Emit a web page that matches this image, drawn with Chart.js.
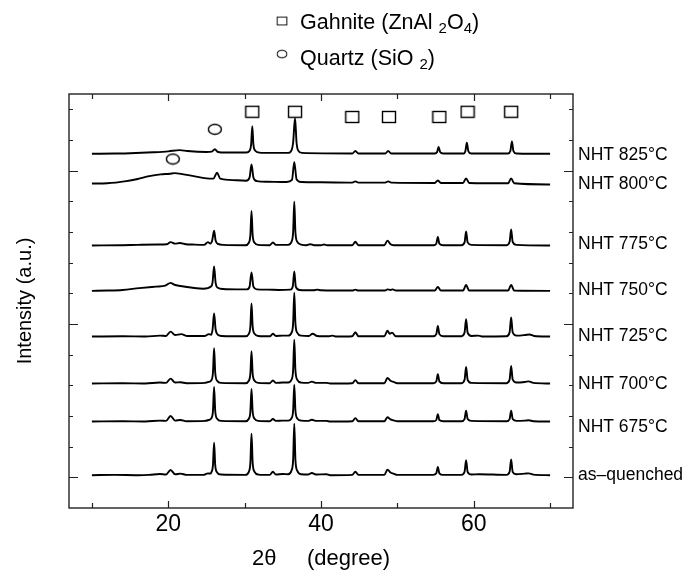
<!DOCTYPE html>
<html>
<head>
<meta charset="utf-8">
<script src="https://cdn.jsdelivr.net/npm/chart.js@4.4.1/dist/chart.umd.min.js"></script>
<style>
  body { margin: 0; background: #fff; }
  #wrap { width: 686px; height: 576px; }
</style>
</head>
<body>
<div id="wrap"><canvas id="xrd" width="686" height="576"></canvas></div>
<script>
// ---- data: [2theta, intensity above own baseline] ----
const asQuenched = [[10,0],[13,1],[16,0],[17.5,1],[18.9,4],[19.7,2],[20.3,17],[20.9,3],[21.6,5],[22.4,1],[24.6,1],[25.2,6],[25.5,5],[25.65,10],[25.85,32],[26.0,106],[26.15,32],[26.4,9],[26.9,2],[30.1,1],[30.55,11],[30.75,40],[30.9,135],[31.05,40],[31.3,11],[31.8,2],[33.3,1],[33.7,11],[34.1,2],[35.0,4],[35.7,3],[36.15,16],[36.35,50],[36.5,168],[36.65,50],[36.9,14],[37.4,3],[38.3,2],[38.8,7],[39.4,2],[40.7,3],[41.2,0],[44.1,1],[44.5,11],[44.9,1],[48.3,1],[48.7,18],[49.1,9],[49.5,5],[50.0,1],[54.7,1],[55.1,6],[55.3,27],[55.5,6],[56.0,1],[58.4,1],[58.8,11],[59.0,49],[59.2,11],[59.7,2],[60.7,3],[64.3,1],[64.7,11],[64.9,51],[65.1,11],[65.6,3],[66.7,5],[67.2,6],[67.8,2],[70,0]];
const nht675 = [[10,0],[14,1],[17,0],[18.9,3],[19.7,2],[20.3,18],[20.9,3],[21.6,5],[22.4,1],[24.8,2],[25.3,5],[25.65,11],[25.85,34],[26.0,113],[26.15,34],[26.4,9],[26.9,2],[30.1,1],[30.55,9],[30.75,32],[30.9,106],[31.05,32],[31.3,9],[31.8,2],[33.3,1],[33.7,8],[34.1,2],[35.0,3],[35.7,3],[36.15,11],[36.35,36],[36.5,120],[36.65,36],[36.9,10],[37.4,3],[38.3,2],[38.8,6],[39.4,2],[40.7,2],[41.2,0],[44.1,1],[44.5,11],[44.9,1],[48.3,1],[48.7,14],[49.1,7],[49.5,4],[50.0,1],[54.7,1],[55.1,5],[55.3,24],[55.5,5],[56.0,1],[58.4,1],[58.8,8],[59.0,35],[59.2,8],[59.7,2],[64.3,1],[64.7,8],[64.9,35],[65.1,8],[65.6,2],[66.7,3],[67.2,4],[67.8,1],[70,0]];
const nht700 = [[10,0],[14,1],[17,0],[18.9,3],[19.7,2],[20.3,16],[20.9,3],[21.6,4],[22.4,1],[24.8,2],[25.3,5],[25.65,11],[25.85,35],[26.0,115],[26.15,35],[26.4,9],[26.9,2],[30.1,1],[30.55,9],[30.75,32],[30.9,105],[31.05,32],[31.3,9],[31.8,2],[33.3,1],[33.7,10],[34.1,2],[35.0,3],[35.7,3],[36.15,13],[36.35,43],[36.5,143],[36.65,43],[36.9,12],[37.4,3],[38.3,2],[38.8,6],[39.4,2],[40.7,2],[41.2,0],[44.1,1],[44.5,11],[44.9,1],[48.3,1],[48.7,18],[49.1,9],[49.5,5],[50.0,1],[54.7,1],[55.1,7],[55.3,30],[55.5,7],[56.0,1],[58.4,1],[58.8,12],[59.0,54],[59.2,12],[59.7,2],[64.3,1],[64.7,13],[64.9,57],[65.1,13],[65.6,3],[66.7,5],[67.2,7],[67.8,2],[70,0]];
const nht725 = [[10,0],[14,1],[17,0],[18.9,3],[19.7,2],[20.3,16],[20.9,5],[21.7,8],[22.5,2],[24.8,2],[25.3,8],[25.6,6],[25.8,23],[26.0,75],[26.2,23],[26.5,6],[27.0,2],[30.1,1],[30.55,9],[30.75,33],[30.9,108],[31.05,33],[31.3,9],[31.8,2],[33.3,1],[33.7,9],[34.1,2],[35.0,3],[35.7,3],[36.15,13],[36.35,43],[36.5,143],[36.65,43],[36.9,12],[37.4,3],[38.4,2],[38.9,9],[39.5,2],[41.1,1],[41.5,3],[42.0,0],[44.1,1],[44.5,14],[44.9,1],[48.3,1],[48.7,19],[49.0,9],[49.3,13],[49.8,1],[54.7,1],[55.1,8],[55.3,35],[55.5,8],[56.0,1],[58.4,1],[58.8,13],[59.0,57],[59.2,13],[59.7,2],[60.6,3],[61.2,0],[64.3,1],[64.7,14],[64.9,62],[65.1,14],[65.6,3],[66.7,5],[67.3,7],[67.9,2],[70,0]];
const nht750 = [[10,0],[12,1],[14,3],[16.2,9],[18.4,14],[19.6,17],[20.3,26],[20.8,20],[21.6,16],[23.2,10],[24.6,7],[25.6,14],[25.8,28],[26.0,80],[26.2,26],[26.5,10],[27.2,6],[29,5],[30.3,5],[30.65,14],[30.9,60],[31.15,14],[31.6,5],[33,4],[34.5,3],[36.0,4],[36.3,14],[36.5,63],[36.7,14],[37.2,3],[39.0,2],[39.5,4],[40.0,2],[44.1,1],[44.5,4],[44.9,1],[48.4,1],[48.7,5],[49.1,3],[49.4,5],[49.8,1],[54.9,1],[55.3,13],[55.7,1],[58.6,1],[59.0,19],[59.4,1],[64.5,1],[64.9,19],[65.3,1],[70,0]];
const nht775 = [[10,0],[14,1],[16,2],[18.6,3],[19.8,4],[20.3,11],[20.9,6],[21.5,8],[22.3,4],[23.2,3],[24.7,2],[25.2,11],[25.5,6],[25.75,16],[26.0,48],[26.2,16],[26.5,5],[27.2,2],[30.1,1],[30.55,9],[30.75,34],[30.9,113],[31.05,34],[31.3,9],[31.8,2],[33.3,1],[33.7,10],[34.1,2],[35.7,2],[36.15,13],[36.35,43],[36.5,143],[36.65,43],[36.9,12],[37.4,3],[38.1,1],[38.6,4],[39.1,1],[40.0,1],[40.4,3],[40.8,1],[44.1,1],[44.5,12],[44.9,1],[48.3,1],[48.7,16],[49.1,4],[49.5,1],[54.8,1],[55.1,6],[55.3,28],[55.5,6],[56.0,1],[58.4,1],[58.8,10],[59.0,46],[59.2,10],[59.7,2],[64.3,1],[64.7,12],[64.9,52],[65.1,12],[65.6,2],[70,0]];
const nht800 = [[10,0],[12,1],[14.5,8],[16,15],[17.5,24],[19,30],[20.2,32],[20.8,34],[22,30],[23.2,25],[25,17],[25.9,16],[26.4,35],[26.8,16],[28,12],[30.2,9],[30.65,20],[30.9,62],[31.15,20],[31.6,8],[33,6],[35.5,5],[36.2,12],[36.5,70],[36.8,14],[37.4,5],[40,4],[44.1,3],[44.5,7],[44.9,3],[48.4,3],[48.8,7],[49.2,3],[54.9,2],[55.3,10],[55.7,2],[58.6,2],[59.0,17],[59.4,2],[64.5,1],[64.9,17],[65.3,1],[70,-3]];
const nht825 = [[10,0],[13,1],[15,2],[18,5],[20,8],[21.5,12],[22.5,9],[25,6],[25.7,7],[26.1,15],[26.5,6],[27.5,4],[30.2,4],[30.65,10],[30.85,30],[31.0,90],[31.15,30],[31.4,10],[31.9,4],[33.8,3],[35.7,3],[36.15,12],[36.35,36],[36.6,117],[36.8,36],[37.0,11],[37.5,3],[44.1,1],[44.5,9],[44.9,1],[48.4,1],[48.8,9],[49.2,1],[54.9,1],[55.2,6],[55.4,22],[55.6,6],[56.0,1],[58.7,1],[58.9,8],[59.1,36],[59.3,8],[59.7,1],[64.5,1],[64.8,9],[65.0,40],[65.2,9],[65.6,1],[70,0]];

const traces = [asQuenched, nht675, nht700, nht725, nht750, nht775, nht800, nht825];
const traceLabels = ['as\u2013quenched', 'NHT 675\u00b0C', 'NHT 700\u00b0C', 'NHT 725\u00b0C', 'NHT 750\u00b0C', 'NHT 775\u00b0C', 'NHT 800\u00b0C', 'NHT 825\u00b0C'];
const traceOffsets = [7, 182, 306, 459, 608, 756, 958, 1055];

// phase markers
const gahniteX = [31.0, 36.6, 44.1, 48.9, 55.5, 59.2, 64.9];
const gahniteY = [1192, 1192, 1175, 1175, 1175, 1192, 1192];
const quartzX = [26.1, 20.6];
const quartzY = [1135, 1038];

// axes
const xTicks = [10, 20, 30, 40, 50, 60, 70];
const yTicks = [0, 100, 200, 300, 400, 500, 600, 700, 800, 900, 1000, 1100, 1200];

// ---- styling ----
const FONT = "'Liberation Sans', Arial, Helvetica, sans-serif";
const labelNudge = [0, 6, 1, 0, -1, -1, 1, 1];

function markerImg(w, h, shape) {
  const c = document.createElement('canvas');
  c.width = w + 3; c.height = h + 3;
  const g = c.getContext('2d');
  g.strokeStyle = '#000';
  g.lineWidth = 1.4;
  if (shape === 'rect') {
    g.strokeRect(1.5, 1.5, w, h);
  } else {
    g.beginPath();
    g.ellipse(c.width / 2, c.height / 2, w / 2, h / 2, 0, 0, Math.PI * 2);
    g.stroke();
  }
  return c;
}
const squareImg = markerImg(13, 11, 'rect');
const circleImg = markerImg(13, 10, 'circle');

const datasets = traces.map((t, i) => ({
  label: traceLabels[i],
  data: t.map(p => ({ x: p[0], y: traceOffsets[i] + p[1] })),
  borderColor: '#000',
  borderWidth: 1.9,
  pointRadius: 0,
  fill: false,
  cubicInterpolationMode: 'monotone'
}));
datasets.push({
  label: 'Gahnite',
  data: gahniteX.map((x, i) => ({ x: x, y: gahniteY[i] })),
  showLine: false,
  pointStyle: squareImg,
  pointRadius: 7
});
datasets.push({
  label: 'Quartz',
  data: quartzX.map((x, i) => ({ x: x, y: quartzY[i] })),
  showLine: false,
  pointStyle: circleImg,
  pointRadius: 7
});

// frame, inward ticks, right-hand labels and phase key
const decor = {
  id: 'decor',
  afterDraw(chart) {
    const ctx = chart.ctx;
    const a = chart.chartArea;
    const xs = chart.scales.x, ys = chart.scales.y;
    ctx.save();
    ctx.strokeStyle = '#222';
    ctx.lineWidth = 1.4;
    ctx.strokeRect(a.left, a.top, a.right - a.left, a.bottom - a.top);

    ctx.lineWidth = 1.2;
    ctx.beginPath();
    xTicks.forEach(v => {
      const px = Math.round(xs.getPixelForValue(v)) + 0.5;
      const len = v % 20 === 0 ? 7 : 5;
      ctx.moveTo(px, a.bottom); ctx.lineTo(px, a.bottom - len);
      ctx.moveTo(px, a.top); ctx.lineTo(px, a.top + len);
    });
    yTicks.forEach(v => {
      const py = Math.round(ys.getPixelForValue(v)) + 0.5;
      const len = v % 500 === 0 ? 9 : 4;
      ctx.moveTo(a.left, py); ctx.lineTo(a.left + len, py);
      ctx.moveTo(a.right, py); ctx.lineTo(a.right - len, py);
    });
    ctx.stroke();

    // curve labels
    ctx.fillStyle = '#000';
    ctx.font = '17.5px ' + FONT;
    ctx.textBaseline = 'middle';
    ctx.textAlign = 'left';
    traceLabels.forEach((t, i) => {
      ctx.fillText(t, a.right + 5, ys.getPixelForValue(traceOffsets[i]) + labelNudge[i]);
    });

    // phase key at top
    const parts = (items, x, y) => {
      items.forEach(([txt, sub]) => {
        ctx.font = (sub ? '15px ' : '21.5px ') + FONT;
        ctx.fillText(txt, x, sub ? y + 4 : y);
        x += ctx.measureText(txt).width;
      });
    };
    ctx.textBaseline = 'alphabetic';
    ctx.drawImage(squareImg, 276, 16, 12, 10);
    parts([['Gahnite (ZnAl ', 0], ['2', 1], ['O', 0], ['4', 1], [')', 0]], 300, 29);
    ctx.drawImage(circleImg, 276, 49, 12, 10);
    parts([['Quartz (SiO ', 0], ['2', 1], [')', 0]], 300, 65);
    ctx.restore();
  }
};

new Chart(document.getElementById('xrd'), {
  type: 'line',
  data: { datasets: datasets },
  options: {
    responsive: false,
    animation: false,
    devicePixelRatio: 1,
    layout: { padding: { left: 0, right: 113, top: 94, bottom: 0 } },
    plugins: { legend: { display: false }, tooltip: { enabled: false } },
    scales: {
      x: {
        type: 'linear',
        min: 7, max: 73,
        afterBuildTicks: s => { s.ticks = xTicks.map(v => ({ value: v })); },
        grid: { display: false, drawTicks: false },
        border: { display: false },
        ticks: {
          color: '#000',
          padding: 3,
          font: { family: FONT, size: 23 },
          callback: v => (v % 20 === 0 ? v : '')
        },
        title: {
          display: true,
          text: '2\u03b8     (degree)',
          color: '#000',
          font: { family: FONT, size: 22 },
          padding: { top: 4, bottom: 4 }
        }
      },
      y: {
        type: 'linear',
        min: -100, max: 1250,
        afterBuildTicks: s => { s.ticks = yTicks.map(v => ({ value: v })); },
        grid: { display: false, drawTicks: false },
        border: { display: false },
        ticks: { display: false },
        title: {
          display: true,
          text: 'Intensity (a.u.)',
          color: '#000',
          font: { family: FONT, size: 20 },
          padding: { top: 13, bottom: 32 }
        }
      }
    }
  },
  plugins: [decor]
});
</script>
</body>
</html>
